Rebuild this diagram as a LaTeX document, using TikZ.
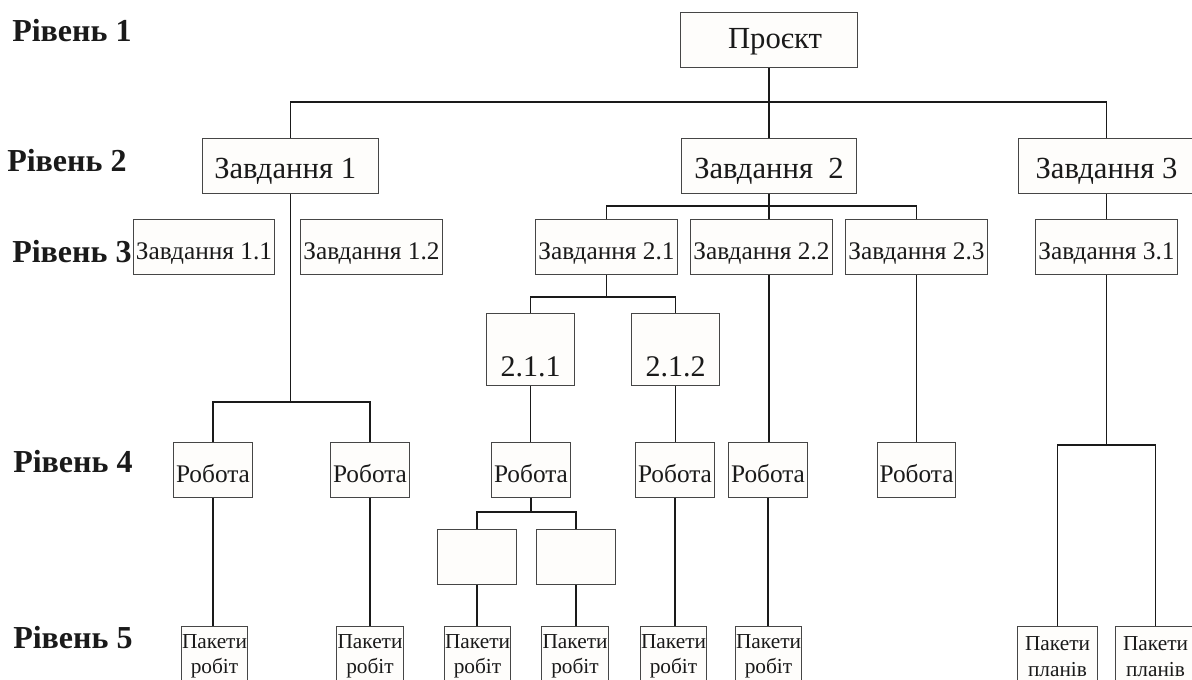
\documentclass[tikz,border=0pt]{standalone}
\usepackage{fontspec}
\setmainfont{Liberation Serif}
\newdimen\pxu \pxu=0.75pt
\definecolor{boxfill}{RGB}{254,253,251}
\definecolor{ink}{RGB}{26,26,26}
\definecolor{edge}{RGB}{70,70,70}
\begin{document}
\begin{tikzpicture}[x=0.75pt,y=-0.75pt,
  box/.style n args={3}{draw=edge, line width=0.75pt, fill=boxfill, text=ink, inner sep=0pt, anchor=north west, minimum width=#1\pxu, text height=#2\pxu, text depth=#3\pxu},
  pkg/.style={draw=edge, line width=0.75pt, fill=boxfill, text=ink, inner sep=0pt, anchor=north west, minimum width=#1\pxu, minimum height=60\pxu, align=center, font=\fontsize{16}{19}\selectfont},
  lvl/.style={font=\fontsize{24}{28}\selectfont\bfseries, text=ink, anchor=base west, inner sep=0pt},
  big/.style={font=\fontsize{23}{27}\selectfont},
  mid/.style={font=\fontsize{19}{23}\selectfont},
  num/.style={font=\fontsize{22.5}{27}\selectfont},
  link/.style={draw=ink, line width=1.05pt},
]
\fill[white] (0,0) rectangle (1192,680);
\useasboundingbox (0,0) rectangle (1192,680);

% level labels
\node[lvl] (l1) at (12,42) {Рівень 1};
\node[lvl] (l2) at (7,172) {Рівень 2};
\node[lvl] (l3) at (12,263) {Рівень 3};
\node[lvl] (l4) at (13,473) {Рівень 4};
\node[lvl] (l5) at (13,648) {Рівень 5};

% level 1
\node[box={177}{36}{19}, big] (p) at (680,12) {\hspace*{9pt}Проєкт};
% level 2
\node[box={176}{40}{15}, big] (z1) at (202,138) {Завдання 1\hspace*{8pt}};
\node[box={175}{40}{15}, big] (z2) at (681,138) {Завдання\ \ 2};
\node[box={176}{40}{15}, big] (z3) at (1018,138) {Завдання 3};
% level 3
\node[box={141}{40}{15}, mid] (z11) at (133,219) {Завдання 1.1};
\node[box={142}{40}{15}, mid] (z12) at (300,219) {Завдання 1.2};
\node[box={142}{40}{15}, mid] (z21) at (535,219) {Завдання 2.1};
\node[box={142}{40}{15}, mid] (z22) at (690,219) {Завдання 2.2};
\node[box={142}{40}{15}, mid] (z23) at (845,219) {Завдання 2.3};
\node[box={142}{40}{15}, mid] (z31) at (1035,219) {Завдання 3.1};
% 2.1.x
\node[box={88}{63}{9}, num] (n211) at (486,313) {2.1.1};
\node[box={88}{63}{9}, num] (n212) at (631,313) {2.1.2};
% level 4
\node[box={79}{40}{15}, mid] (ra) at (173,442) {Робота};
\node[box={79}{40}{15}, mid] (rb) at (330,442) {Робота};
\node[box={79}{40}{15}, mid] (rc) at (491,442) {Робота};
\node[box={79}{40}{15}, mid] (rd) at (635,442) {Робота};
\node[box={79}{40}{15}, mid] (re) at (728,442) {Робота};
\node[box={78}{40}{15}, mid] (rf) at (877,442) {Робота};
% empty boxes
\node[box={79}{55}{0}] (ea) at (437,529) {};
\node[box={79}{55}{0}] (eb) at (536,529) {};
% level 5
\node[pkg=66] (pa) at (181,626) {Пакети\\робіт};
\node[pkg=67] (pb) at (336,626) {Пакети\\робіт};
\node[pkg=66] (pc) at (444,626) {Пакети\\робіт};
\node[pkg=67] (pd) at (541,626) {Пакети\\робіт};
\node[pkg=66] (pe) at (640,626) {Пакети\\робіт};
\node[pkg=66] (pf) at (735,626) {Пакети\\робіт};
\node[pkg=80] (k1) at (1017,626) {Пакети\\планів};
\node[pkg=80] (k2) at (1115,626) {Пакети\\планів};

% bus levels
\coordinate (b1) at (0,102);
\coordinate (b2) at (0,402);
\coordinate (b3) at (0,206);
\coordinate (b4) at (0,297);
\coordinate (b5) at (0,445);
\coordinate (b6) at (0,512);

% connectors
\draw[link] (p.south) -- (p.south |- z2.north);
\draw[link] (z1.north) |- (b1 -| z3.north) -- (z3.north);
\draw[link] (z1.south) -- (z1.south |- b2);
\draw[link] (ra.north) |- (b2 -| rb.north) -- (rb.north);
\draw[link] (z2.south) -- (z2.south |- z22.north);
\draw[link] (z21.north) |- (b3 -| z23.north) -- (z23.north);
\draw[link] (z3.south) -- (z3.south |- z31.north);
\draw[link] (z21.south) -- (z21.south |- b4);
\draw[link] (n211.north) |- (b4 -| n212.north) -- (n212.north);
\draw[link] (n211.south) -- (n211.south |- rc.north);
\draw[link] (n212.south) -- (n212.south |- rd.north);
\draw[link] (z2.south |- z22.south) -- (z2.south |- re.north);
\draw[link] (z23.south) -- (z23.south |- rf.north);
\draw[link] (z31.south) -- (z31.south |- b5);
\draw[link] (k1.north) |- (b5 -| k2.north) -- (k2.north);
\draw[link] (ra.south) -- (ra.south |- pa.north);
\draw[link] (rb.south) -- (rb.south |- pb.north);
\draw[link] (rc.south) -- (rc.south |- b6);
\draw[link] (ea.north) |- (b6 -| eb.north) -- (eb.north);
\draw[link] (ea.south) -- (ea.south |- pc.north);
\draw[link] (eb.south) -- (eb.south |- pd.north);
\draw[link] (rd.south) -- (rd.south |- pe.north);
\draw[link] (re.south) -- (re.south |- pf.north);
\end{tikzpicture}
\end{document}
